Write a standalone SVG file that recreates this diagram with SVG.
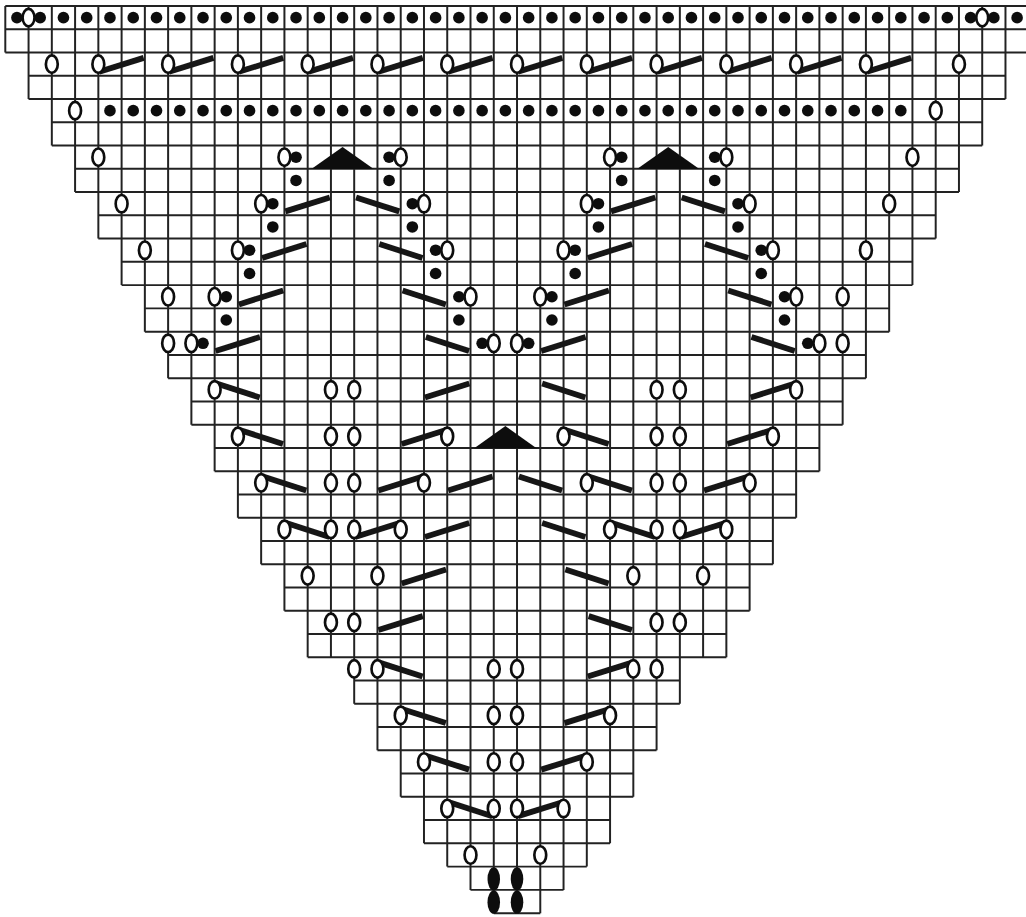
<svg xmlns="http://www.w3.org/2000/svg" xmlns:xlink="http://www.w3.org/1999/xlink" width="1026" height="917" viewBox="0 0 1026 917">
<style>
.grid{fill:none;stroke:#222;stroke-width:.085}
.slash{fill:none;stroke:#161616;stroke-width:.25}
.dot,.tri,.blk{fill:#111}
.oval{fill:#fff;stroke:#111;stroke-width:.115}
</style>
<defs>
<filter id="soft" filterUnits="userSpaceOnUse" x="0" y="0" width="1026" height="917"><feGaussianBlur stdDeviation="0.45"/></filter>
<line id="u" class="slash" x1="0.04" y1="0.83" x2="1.95" y2="0.23"/>
<line id="n" class="slash" x1="0.08" y1="0.23" x2="1.94" y2="0.83"/>
<circle id="d" class="dot" cx="0.5" cy="0.5" r="0.25"/>
<ellipse id="o" class="oval" cx="0" cy="0.5" rx="0.255" ry="0.375"/>
<ellipse id="b" class="blk" cx="0" cy="0.53" rx="0.27" ry="0.5"/>
<polygon id="t" class="tri" points="0,0.06 1.34,1.01 -1.34,1.01"/>
</defs>
<rect width="1026" height="917" fill="#fff"/>
<g filter="url(#soft)">
<g transform="translate(5.3 6) scale(23.26)">
<path id="grid" class="grid" d="M0 0H44M0 1H44M0 2H44M1 3H43M1 4H43M2 5H42M2 6H42M3 7H41M3 8H41M4 9H40M4 10H40M5 11H39M5 12H39M6 13H38M6 14H38M7 15H37M7 16H37M8 17H36M8 18H36M9 19H35M9 20H35M10 21H34M10 22H34M11 23H33M11 24H33M12 25H32M12 26H32M13 27H31M13 28H31M15 29H29M15 30H29M16 31H28M16 32H28M17 33H27M17 34H27M18 35H26M18 36H26M19 37H25M20 38H24M21 39H23
M0 0V2M1 0V4M2 0V6M3 0V8M4 0V10M5 0V12M6 0V14M7 0V16M8 0V18M9 0V20M10 0V22M11 0V24M12 0V26M13 0V28M14 0V28M15 0V30M16 0V32M17 0V34M18 0V36M19 0V37M20 0V38M21 0V39M22 0V39M23 0V39M24 0V38M25 0V37M26 0V36M27 0V34M28 0V32M29 0V30M30 0V28M31 0V28M32 0V26M33 0V24M34 0V22M35 0V20M36 0V18M37 0V16M38 0V14M39 0V12M40 0V10M41 0V8M42 0V6M43 0V4M44 0V2"/>
<g id="slashes">
<use href="#u" x="4" y="2"/><use href="#u" x="7" y="2"/><use href="#u" x="10" y="2"/><use href="#u" x="13" y="2"/><use href="#u" x="16" y="2"/><use href="#u" x="19" y="2"/><use href="#u" x="22" y="2"/><use href="#u" x="25" y="2"/><use href="#u" x="28" y="2"/><use href="#u" x="31" y="2"/><use href="#u" x="34" y="2"/><use href="#u" x="37" y="2"/>
<use href="#u" x="12" y="8"/><use href="#n" x="15" y="8"/><use href="#u" x="26" y="8"/><use href="#n" x="29" y="8"/>
<use href="#u" x="11" y="10"/><use href="#n" x="16" y="10"/><use href="#u" x="25" y="10"/><use href="#n" x="30" y="10"/>
<use href="#u" x="10" y="12"/><use href="#n" x="17" y="12"/><use href="#u" x="24" y="12"/><use href="#n" x="31" y="12"/>
<use href="#u" x="9" y="14"/><use href="#n" x="18" y="14"/><use href="#u" x="23" y="14"/><use href="#n" x="32" y="14"/>
<use href="#n" x="9" y="16"/><use href="#u" x="18" y="16"/><use href="#n" x="23" y="16"/><use href="#u" x="32" y="16"/>
<use href="#n" x="10" y="18"/><use href="#u" x="17" y="18"/><use href="#n" x="24" y="18"/><use href="#u" x="31" y="18"/>
<use href="#n" x="11" y="20"/><use href="#u" x="16" y="20"/><use href="#u" x="19" y="20"/><use href="#n" x="22" y="20"/><use href="#n" x="25" y="20"/><use href="#u" x="30" y="20"/>
<use href="#n" x="12" y="22"/><use href="#u" x="15" y="22"/><use href="#u" x="18" y="22"/><use href="#n" x="23" y="22"/><use href="#n" x="26" y="22"/><use href="#u" x="29" y="22"/>
<use href="#u" x="17" y="24"/><use href="#n" x="24" y="24"/>
<use href="#u" x="16" y="26"/><use href="#n" x="25" y="26"/>
<use href="#n" x="16" y="28"/><use href="#u" x="25" y="28"/>
<use href="#n" x="17" y="30"/><use href="#u" x="24" y="30"/>
<use href="#n" x="18" y="32"/><use href="#u" x="23" y="32"/>
<use href="#n" x="19" y="34"/><use href="#u" x="22" y="34"/>
</g>
<g id="triangles">
<use href="#t" x="14.5" y="6"/><use href="#t" x="28.5" y="6"/><use href="#t" x="21.5" y="18"/>
</g>
<g id="dots">
<use href="#d" x="0" y="0"/><use href="#d" x="1" y="0"/><use href="#d" x="2" y="0"/><use href="#d" x="3" y="0"/><use href="#d" x="4" y="0"/><use href="#d" x="5" y="0"/><use href="#d" x="6" y="0"/><use href="#d" x="7" y="0"/><use href="#d" x="8" y="0"/><use href="#d" x="9" y="0"/><use href="#d" x="10" y="0"/><use href="#d" x="11" y="0"/><use href="#d" x="12" y="0"/><use href="#d" x="13" y="0"/><use href="#d" x="14" y="0"/><use href="#d" x="15" y="0"/><use href="#d" x="16" y="0"/><use href="#d" x="17" y="0"/><use href="#d" x="18" y="0"/><use href="#d" x="19" y="0"/><use href="#d" x="20" y="0"/><use href="#d" x="21" y="0"/><use href="#d" x="22" y="0"/><use href="#d" x="23" y="0"/><use href="#d" x="24" y="0"/><use href="#d" x="25" y="0"/><use href="#d" x="26" y="0"/><use href="#d" x="27" y="0"/><use href="#d" x="28" y="0"/><use href="#d" x="29" y="0"/><use href="#d" x="30" y="0"/><use href="#d" x="31" y="0"/><use href="#d" x="32" y="0"/><use href="#d" x="33" y="0"/><use href="#d" x="34" y="0"/><use href="#d" x="35" y="0"/><use href="#d" x="36" y="0"/><use href="#d" x="37" y="0"/><use href="#d" x="38" y="0"/><use href="#d" x="39" y="0"/><use href="#d" x="40" y="0"/><use href="#d" x="41" y="0"/><use href="#d" x="42" y="0"/><use href="#d" x="43" y="0"/>
<use href="#d" x="4" y="4"/><use href="#d" x="5" y="4"/><use href="#d" x="6" y="4"/><use href="#d" x="7" y="4"/><use href="#d" x="8" y="4"/><use href="#d" x="9" y="4"/><use href="#d" x="10" y="4"/><use href="#d" x="11" y="4"/><use href="#d" x="12" y="4"/><use href="#d" x="13" y="4"/><use href="#d" x="14" y="4"/><use href="#d" x="15" y="4"/><use href="#d" x="16" y="4"/><use href="#d" x="17" y="4"/><use href="#d" x="18" y="4"/><use href="#d" x="19" y="4"/><use href="#d" x="20" y="4"/><use href="#d" x="21" y="4"/><use href="#d" x="22" y="4"/><use href="#d" x="23" y="4"/><use href="#d" x="24" y="4"/><use href="#d" x="25" y="4"/><use href="#d" x="26" y="4"/><use href="#d" x="27" y="4"/><use href="#d" x="28" y="4"/><use href="#d" x="29" y="4"/><use href="#d" x="30" y="4"/><use href="#d" x="31" y="4"/><use href="#d" x="32" y="4"/><use href="#d" x="33" y="4"/><use href="#d" x="34" y="4"/><use href="#d" x="35" y="4"/><use href="#d" x="36" y="4"/><use href="#d" x="37" y="4"/><use href="#d" x="38" y="4"/>
<use href="#d" x="12" y="6"/><use href="#d" x="16" y="6"/><use href="#d" x="26" y="6"/><use href="#d" x="30" y="6"/>
<use href="#d" x="12" y="7"/><use href="#d" x="16" y="7"/><use href="#d" x="26" y="7"/><use href="#d" x="30" y="7"/>
<use href="#d" x="11" y="8"/><use href="#d" x="17" y="8"/><use href="#d" x="25" y="8"/><use href="#d" x="31" y="8"/>
<use href="#d" x="11" y="9"/><use href="#d" x="17" y="9"/><use href="#d" x="25" y="9"/><use href="#d" x="31" y="9"/>
<use href="#d" x="10" y="10"/><use href="#d" x="18" y="10"/><use href="#d" x="24" y="10"/><use href="#d" x="32" y="10"/>
<use href="#d" x="10" y="11"/><use href="#d" x="18" y="11"/><use href="#d" x="24" y="11"/><use href="#d" x="32" y="11"/>
<use href="#d" x="9" y="12"/><use href="#d" x="19" y="12"/><use href="#d" x="23" y="12"/><use href="#d" x="33" y="12"/>
<use href="#d" x="9" y="13"/><use href="#d" x="19" y="13"/><use href="#d" x="23" y="13"/><use href="#d" x="33" y="13"/>
<use href="#d" x="8" y="14"/><use href="#d" x="20" y="14"/><use href="#d" x="22" y="14"/><use href="#d" x="34" y="14"/>
</g>
<g id="ovals">
<use href="#o" x="1" y="0"/><use href="#o" x="42" y="0"/>
<use href="#o" x="2" y="2"/><use href="#o" x="4" y="2"/><use href="#o" x="7" y="2"/><use href="#o" x="10" y="2"/><use href="#o" x="13" y="2"/><use href="#o" x="16" y="2"/><use href="#o" x="19" y="2"/><use href="#o" x="22" y="2"/><use href="#o" x="25" y="2"/><use href="#o" x="28" y="2"/><use href="#o" x="31" y="2"/><use href="#o" x="34" y="2"/><use href="#o" x="37" y="2"/><use href="#o" x="41" y="2"/>
<use href="#o" x="3" y="4"/><use href="#o" x="40" y="4"/>
<use href="#o" x="4" y="6"/><use href="#o" x="12" y="6"/><use href="#o" x="17" y="6"/><use href="#o" x="26" y="6"/><use href="#o" x="31" y="6"/><use href="#o" x="39" y="6"/>
<use href="#o" x="5" y="8"/><use href="#o" x="11" y="8"/><use href="#o" x="18" y="8"/><use href="#o" x="25" y="8"/><use href="#o" x="32" y="8"/><use href="#o" x="38" y="8"/>
<use href="#o" x="6" y="10"/><use href="#o" x="10" y="10"/><use href="#o" x="19" y="10"/><use href="#o" x="24" y="10"/><use href="#o" x="33" y="10"/><use href="#o" x="37" y="10"/>
<use href="#o" x="7" y="12"/><use href="#o" x="9" y="12"/><use href="#o" x="20" y="12"/><use href="#o" x="23" y="12"/><use href="#o" x="34" y="12"/><use href="#o" x="36" y="12"/>
<use href="#o" x="7" y="14"/><use href="#o" x="8" y="14"/><use href="#o" x="21" y="14"/><use href="#o" x="22" y="14"/><use href="#o" x="35" y="14"/><use href="#o" x="36" y="14"/>
<use href="#o" x="9" y="16"/><use href="#o" x="14" y="16"/><use href="#o" x="15" y="16"/><use href="#o" x="28" y="16"/><use href="#o" x="29" y="16"/><use href="#o" x="34" y="16"/>
<use href="#o" x="10" y="18"/><use href="#o" x="14" y="18"/><use href="#o" x="15" y="18"/><use href="#o" x="19" y="18"/><use href="#o" x="24" y="18"/><use href="#o" x="28" y="18"/><use href="#o" x="29" y="18"/><use href="#o" x="33" y="18"/>
<use href="#o" x="11" y="20"/><use href="#o" x="14" y="20"/><use href="#o" x="15" y="20"/><use href="#o" x="18" y="20"/><use href="#o" x="25" y="20"/><use href="#o" x="28" y="20"/><use href="#o" x="29" y="20"/><use href="#o" x="32" y="20"/>
<use href="#o" x="12" y="22"/><use href="#o" x="14" y="22"/><use href="#o" x="15" y="22"/><use href="#o" x="17" y="22"/><use href="#o" x="26" y="22"/><use href="#o" x="28" y="22"/><use href="#o" x="29" y="22"/><use href="#o" x="31" y="22"/>
<use href="#o" x="13" y="24"/><use href="#o" x="16" y="24"/><use href="#o" x="27" y="24"/><use href="#o" x="30" y="24"/>
<use href="#o" x="14" y="26"/><use href="#o" x="15" y="26"/><use href="#o" x="28" y="26"/><use href="#o" x="29" y="26"/>
<use href="#o" x="15" y="28"/><use href="#o" x="16" y="28"/><use href="#o" x="21" y="28"/><use href="#o" x="22" y="28"/><use href="#o" x="27" y="28"/><use href="#o" x="28" y="28"/>
<use href="#o" x="17" y="30"/><use href="#o" x="21" y="30"/><use href="#o" x="22" y="30"/><use href="#o" x="26" y="30"/>
<use href="#o" x="18" y="32"/><use href="#o" x="21" y="32"/><use href="#o" x="22" y="32"/><use href="#o" x="25" y="32"/>
<use href="#o" x="19" y="34"/><use href="#o" x="21" y="34"/><use href="#o" x="22" y="34"/><use href="#o" x="24" y="34"/>
<use href="#o" x="20" y="36"/><use href="#o" x="23" y="36"/>
<use href="#b" x="21" y="37"/><use href="#b" x="22" y="37"/><use href="#b" x="21" y="38"/><use href="#b" x="22" y="38"/>
</g>
</g>
</g>
</svg>
